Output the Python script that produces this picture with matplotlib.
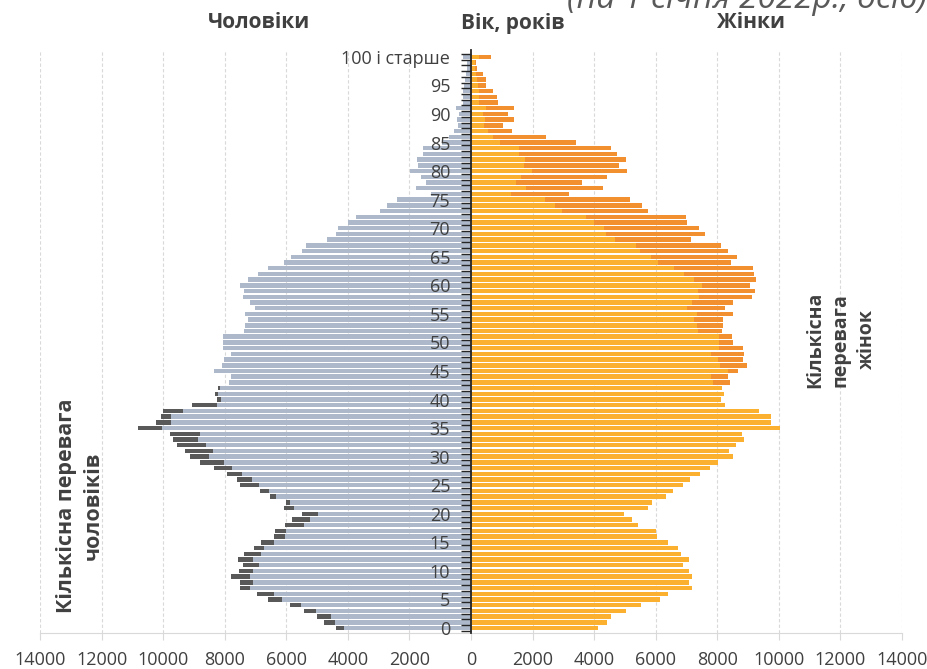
import numpy as np
import matplotlib
matplotlib.use('Agg')
import matplotlib.pyplot as plt
from matplotlib.ticker import FuncFormatter, FixedLocator

plt.rcParams['font.family'] = ['Open Sans', 'DejaVu Sans']

AGES = np.arange(0, 101)

# чоловіки, осіб (вік 0 ... 100 і старше)
MALES = [
    4400, 4785, 5000, 5410, 5885, 6590, 6945, 7505, 7515, 7785,
    7550, 7410, 7560, 7365, 7055, 6815, 6415, 6360, 6050, 5800,
    5500, 6070, 5995, 6520, 6845, 7505, 7605, 7940, 8360, 8815,
    9135, 9275, 9545, 9675, 9785, 10830, 10230, 10065, 9990, 9070,
    8240, 8315, 8220, 7875, 7785, 8335, 8090, 8025, 7810, 8045,
    8045, 8045, 7375, 7355, 7230, 7345, 7030, 7170, 7420, 7385,
    7505, 7245, 6935, 6610, 6060, 5845, 5475, 5345, 4665, 4395,
    4320, 3985, 3750, 2950, 2730, 2400, 1300, 1795, 1470, 1630,
    1975, 1715, 1770, 1565, 1575, 950, 700, 550, 420, 440,
    380, 500, 250, 250, 250, 220, 190, 170, 120, 120,
    250,
]

# жінки, осіб
FEMALES = [
    4125, 4405, 4560, 5045, 5510, 6125, 6405, 7170, 7085, 7170,
    7085, 6880, 7095, 6825, 6720, 6385, 6050, 6015, 5430, 5240,
    4980, 5735, 5895, 6340, 6565, 6900, 7115, 7440, 7765, 8015,
    8520, 8380, 8620, 8855, 8800, 10045, 9730, 9730, 9365, 8250,
    8120, 8230, 8155, 8400, 8340, 8660, 8965, 8845, 8880, 8845,
    8500, 8465, 8165, 8175, 8195, 8520, 8250, 8500, 9125, 9210,
    9070, 9265, 9190, 9160, 8435, 8650, 8350, 8130, 7160, 7605,
    7410, 7020, 6990, 5745, 5540, 5175, 3185, 4300, 3620, 4405,
    5075, 4795, 5020, 4750, 4535, 3415, 2440, 1340, 1050, 1395,
    1210, 1405, 865, 830, 700, 475, 475, 380, 195, 150,
    650,
]

AGE_LABELS = {a: str(a) for a in range(0, 100, 5)}
AGE_LABELS[100] = '100 і старше'

X_TICKS = list(range(-14000, 14001, 2000))

GREY = '#ADB9CA'
DARK_GREY = '#595959'
ORANGE = '#FBB12F'
DARK_ORANGE = '#F2902F'
TEXT = '#404040'


def plot_pyramid():
    males = np.array(MALES)
    females = np.array(FEMALES)
    common = np.minimum(males, females)
    male_extra = np.clip(males - females, 0, None)
    female_extra = np.clip(females - males, 0, None)

    fig = plt.figure(figsize=(9.28, 6.69), dpi=100)
    ax = fig.add_axes([40 / 928, (669 - 632.7) / 669, 862 / 928, 582.7 / 669])

    for x in X_TICKS:
        if x != 0:
            ax.axvline(x, color='#D9D9D9', linestyle=(0, (3, 2)), lw=0.8, zorder=0)

    h = 0.78
    ax.barh(AGES, -common, height=h, color=GREY, zorder=2)
    ax.barh(AGES, -male_extra, left=-common, height=h, color=DARK_GREY, zorder=2)
    ax.barh(AGES, common, height=h, color=ORANGE, zorder=2)
    ax.barh(AGES, female_extra, left=common, height=h, color=DARK_ORANGE, zorder=2)

    ax.set_xlim(-14000, 14000)
    ax.set_ylim(-0.82, 101.2)

    ax.set_xticks(X_TICKS)
    ax.xaxis.set_major_formatter(FuncFormatter(lambda v, p: '{:d}'.format(abs(int(v)))))
    ax.tick_params(axis='x', length=5, color='#D9D9D9', labelsize=13,
                   labelcolor=TEXT, pad=8)

    ax.spines['top'].set_visible(False)
    ax.spines['right'].set_visible(False)
    ax.spines['bottom'].set_color('#D9D9D9')
    ax.spines['left'].set_position(('data', 0))
    ax.spines['left'].set_color('#262626')
    ax.spines['left'].set_linewidth(1.3)
    ax.spines['left'].set_zorder(3)

    ax.yaxis.set_major_locator(FixedLocator(list(AGE_LABELS.keys())))
    ax.set_yticklabels(list(AGE_LABELS.values()))
    ax.yaxis.set_minor_locator(FixedLocator(np.arange(-0.5, 101, 1)))
    ax.tick_params(axis='y', which='major', length=0, pad=15,
                   labelsize=13, labelcolor=TEXT)
    ax.tick_params(axis='y', which='minor', length=7, width=1, color='#262626')
    ax.yaxis.set_zorder(5)

    fig.text(259 / 928, 1 - 23 / 669, 'Чоловіки', ha='center', va='center',
             fontsize=15, fontweight='bold', color=TEXT)
    fig.text(513 / 928, 1 - 23 / 669, 'Вік, років', ha='center', va='center',
             fontsize=15, fontweight='bold', color=TEXT)
    fig.text(751 / 928, 1 - 23 / 669, 'Жінки', ha='center', va='center',
             fontsize=15, fontweight='bold', color=TEXT)
    fig.text(567 / 928, 1 - 8 / 669, '(на 1 січня 2022р., осіб)', ha='left',
             va='baseline', fontsize=24, style='italic', color='#595959')

    fig.text(80 / 928, 1 - 506 / 669, 'Кількісна перевага\nчоловіків',
             rotation=90, ha='center', va='center', multialignment='center',
             fontsize=15.5, fontweight='bold', color=TEXT, linespacing=1.35)
    fig.text(841 / 928, 1 - 340 / 669, 'Кількісна\nперевага\nжінок',
             rotation=90, ha='center', va='center', multialignment='center',
             fontsize=14, fontweight='bold', color=TEXT, linespacing=1.4)

    fig.savefig('out.png', dpi=100)


if __name__ == '__main__':
    plot_pyramid()
